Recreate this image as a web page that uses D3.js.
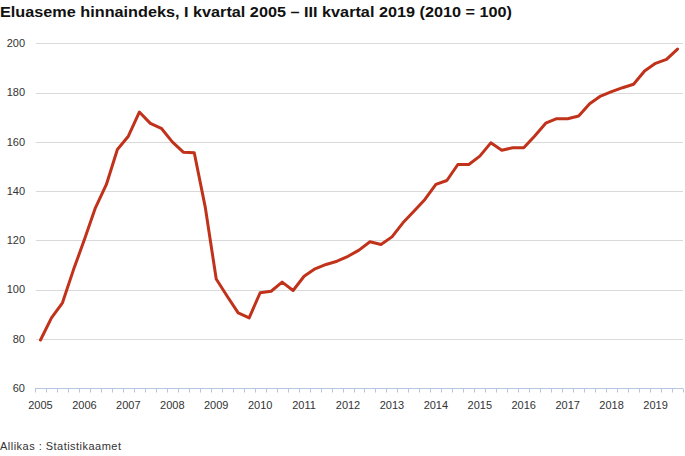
<!DOCTYPE html>
<html>
<head>
<meta charset="utf-8">
<script src="https://cdn.jsdelivr.net/npm/d3@7/dist/d3.min.js"></script>
<style>
  html, body { margin: 0; padding: 0; background: #fff; }
  svg { display: block; font-family: "Liberation Sans", Arial, sans-serif; }
</style>
</head>
<body>
<svg id="chart" width="685" height="456"></svg>
<script>
const title = "Eluaseme hinnaindeks, I kvartal 2005 – III kvartal 2019 (2010 = 100)";
const source = "Allikas : Statistikaamet";
const years = ["2005","2006","2007","2008","2009","2010","2011","2012","2013","2014","2015","2016","2017","2018","2019"];
const quarters = ["I","II","III","IV"];
const yTicks = [60, 80, 100, 120, 140, 160, 180, 200];
const values = [79.5, 88.5, 94.6, 108, 120.3, 133.2, 142.7, 156.9, 162.3, 172.1, 167.5, 165.5,
  160, 155.8, 155.6, 133.5, 104.3, 97.3, 90.5, 88.5, 98.7, 99.3, 103, 99.6,
  105.4, 108.4, 110.2, 111.5, 113.5, 116, 119.4, 118.3, 121.4, 127.1, 131.8, 136.6,
  142.7, 144.3, 150.8, 150.8, 154.2, 159.6, 156.6, 157.6, 157.6, 162.4, 167.6, 169.4,
  169.4, 170.5, 175.5, 178.6, 180.4, 182, 183.4, 188.8, 191.9, 193.5, 197.7];

// build periods
const periods = [];
years.forEach(y => quarters.forEach(q => periods.push(y + " " + q)));
const data = values.map((v, i) => ({ period: periods[i], year: periods[i].split(" ")[0], q: periods[i].split(" ")[1], value: v }));

const svg = d3.select("#chart");
const x = d3.scaleBand().domain(data.map(d => d.period)).range([35, 683]).padding(0);
const y = d3.scaleLinear().domain([60, 200]).range([388, 43.4]);

// title
svg.append("text").attr("x", 0).attr("y", 17)
  .attr("font-size", 15).attr("font-weight", "bold").attr("fill", "#111")
  .attr("textLength", 512).attr("lengthAdjust", "spacingAndGlyphs")
  .text(title);

// gridlines
svg.append("g").selectAll("line").data(yTicks.filter(t => t > 60)).join("line")
  .attr("x1", 36).attr("x2", 683)
  .attr("y1", d => Math.round(y(d)) + 0.5).attr("y2", d => Math.round(y(d)) + 0.5)
  .attr("stroke", "#d9d9d9").attr("stroke-width", 1);

// y labels
svg.append("g").selectAll("text").data(yTicks).join("text")
  .attr("x", 25).attr("y", d => y(d)).attr("dy", "0.35em")
  .attr("text-anchor", "end").attr("font-size", 11).attr("fill", "#333")
  .text(d => d);

// x axis line and ticks
const axisY = Math.round(y(60)) + 0.5;
svg.append("line").attr("x1", 35).attr("x2", 683).attr("y1", axisY).attr("y2", axisY)
  .attr("stroke", "#b7c6e0").attr("stroke-width", 1);
const tickPos = data.map(d => x(d.period)).concat([x.range()[1]]);
svg.append("g").selectAll("line").data(tickPos).join("line")
  .attr("x1", d => Math.round(d) + 0.5).attr("x2", d => Math.round(d) + 0.5)
  .attr("y1", axisY).attr("y2", axisY + 4)
  .attr("stroke", "#b7c6e0").attr("stroke-width", 1);

// x labels at Q1
svg.append("g").selectAll("text").data(data.filter(d => d.q === "I")).join("text")
  .attr("x", d => x(d.period) + x.bandwidth() / 2).attr("y", 409)
  .attr("text-anchor", "middle").attr("font-size", 11).attr("fill", "#333")
  .text(d => d.year);

// line
const line = d3.line().x(d => x(d.period) + x.bandwidth() / 2).y(d => y(d.value));
svg.append("path").datum(data).attr("d", line)
  .attr("fill", "none").attr("stroke", "#c1321b").attr("stroke-width", 3)
  .attr("stroke-linejoin", "round").attr("stroke-linecap", "round");

// source
svg.append("text").attr("x", 0).attr("y", 450)
  .attr("font-size", 11).attr("fill", "#333")
  .attr("textLength", 121).attr("lengthAdjust", "spacing")
  .text(source);
</script>
</body>
</html>
